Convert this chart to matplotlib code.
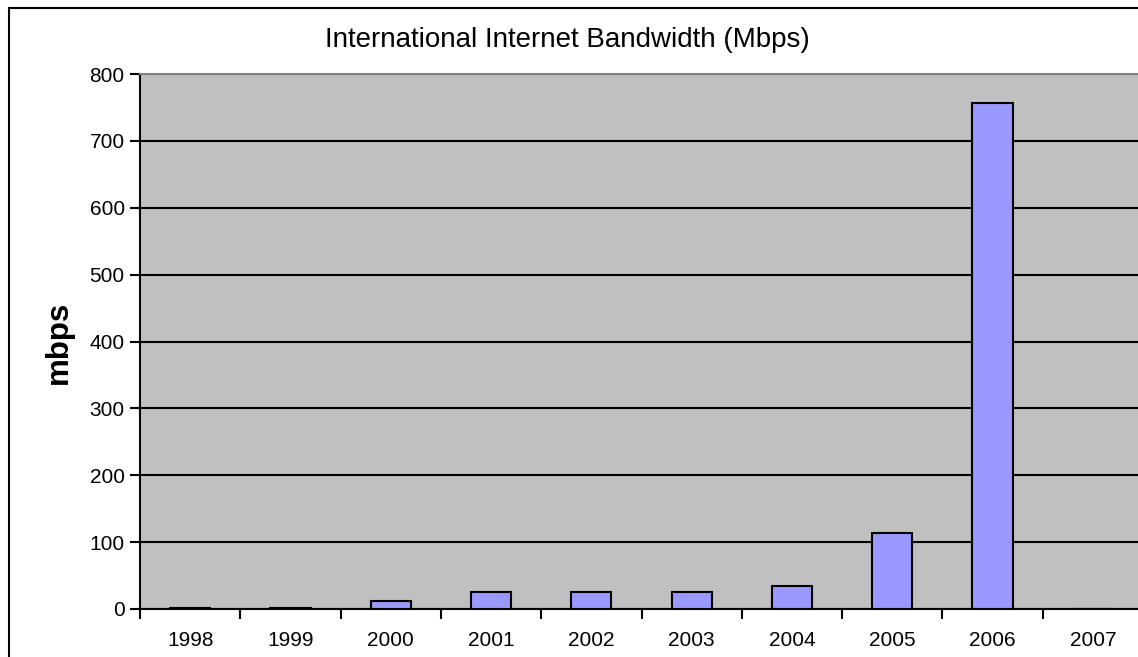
import numpy as np
import matplotlib.pyplot as plt
from matplotlib.patches import Rectangle

plt.rcParams['font.family'] = ['Liberation Sans', 'DejaVu Sans']

years = ['1998', '1999', '2000', '2001', '2002', '2003', '2004', '2005', '2006', '2007']
mbps = [2, 2, 12, 25, 25, 25, 34, 114, 756, 0]

fig = plt.figure(figsize=(11.38, 6.57), dpi=100)
ax = fig.add_axes([140/1138, 1 - 609/657, 1003/1138, (609 - 74)/657])

x = np.arange(len(years))
ax.set_facecolor('#C0C0C0')
ax.bar(x, mbps, width=0.4, color='#9999FF', edgecolor='black', linewidth=1.5, zorder=3)

ax.set_xlim(-0.5, len(years) - 0.5)
ax.set_ylim(0, 800)
ax.set_yticks(range(0, 801, 100))
ax.yaxis.grid(True, color='black', linewidth=1.5, zorder=1)
ax.set_axisbelow(True)

# category labels centred, tick marks on the boundaries
ax.set_xticks(x)
ax.set_xticklabels(years)
ax.set_xticks(np.arange(-0.5, len(years), 1.0), minor=True)
ax.tick_params(axis='x', which='major', length=0, pad=15.5, labelsize=15)
ax.tick_params(axis='x', which='minor', length=7, width=1.5, direction='out')
ax.tick_params(axis='y', length=7, width=1.5, labelsize=15, pad=4)

for side in ['left', 'bottom']:
    ax.spines[side].set_linewidth(1.5)
    ax.spines[side].set_color('black')
ax.spines['top'].set_color('#808080')
ax.spines['top'].set_linewidth(1.5)
ax.spines['right'].set_visible(False)

fig.text(59/1138, 1 - 342/657, 'mbps', fontsize=22.5, fontweight='bold',
         rotation=90, ha='center', va='center')
fig.text(567/1138, 1 - 40/657, 'International Internet Bandwidth (Mbps)',
         fontsize=20, ha='center', va='center')

# chart frame
fig.patches.append(Rectangle((9/1138, -0.1), 1.2, 1 - 8/657 + 0.1, transform=fig.transFigure,
                             fill=False, edgecolor='black', linewidth=1.5))

fig.savefig('out.png', dpi=100)
